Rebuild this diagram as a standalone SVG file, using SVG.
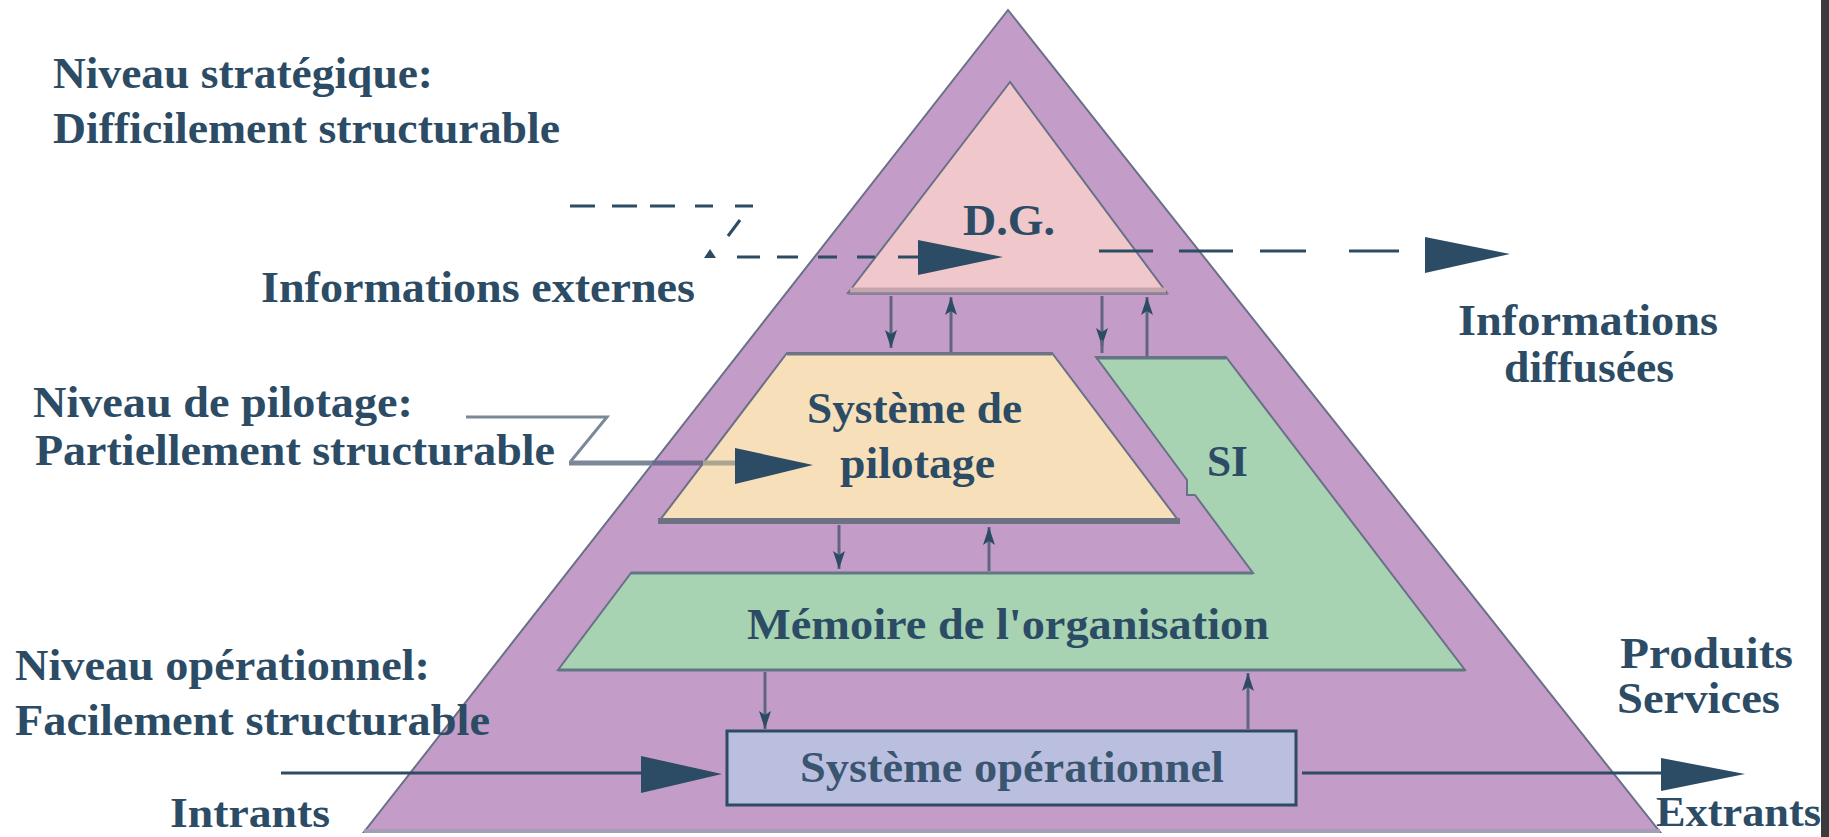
<svg xmlns="http://www.w3.org/2000/svg" width="1829" height="837" viewBox="0 0 1829 837">
<defs>
<style>
text{font-family:"Liberation Serif","Times New Roman",serif;font-weight:bold;font-size:45px;fill:#2C4B65}
.edge{stroke:#6A7087;stroke-width:2;stroke-linejoin:miter}
.vline{stroke:#60657F;stroke-width:3;fill:none}
.dash{stroke:#2C4B65;stroke-width:3;fill:none}
.head{fill:#2C4B65}
</style>
<marker id="sm" markerUnits="userSpaceOnUse" markerWidth="20" markerHeight="14" refX="18" refY="7" orient="auto">
<path d="M0,1 L18,7 L0,13 L4,7 z" fill="#2C4B65"/>
</marker>
</defs>
<rect width="1829" height="837" fill="#FFFFFF"/>

<g id="pyramide">
<polygon points="1008,10 364,832 1660,832" fill="#C39DC7" class="edge"/>
<line x1="364" y1="831" x2="1660" y2="831" stroke="#A39DB8" stroke-width="4"/>
</g>

<g id="dg">
<polygon points="1010,82 848,293 1167,293" fill="#F0C8CB" class="edge"/>
<line x1="850" y1="290" x2="1166" y2="290" stroke="#C6A4AE" stroke-width="5"/>
<line x1="848" y1="294" x2="1168" y2="294" stroke="#8A8099" stroke-width="2"/>
</g>

<g id="systeme-pilotage">
<polygon points="787,353 1052,353 1178,520 660,520" fill="#F7DFB9" class="edge"/>
<line x1="787" y1="354" x2="1052" y2="354" stroke="#6F7485" stroke-width="3"/>
<line x1="658" y1="521" x2="1180" y2="521" stroke="#6D7282" stroke-width="6"/>
</g>

<g id="si-memoire">
<polygon points="1096,357 1226,357 1465,670 558,670 631,573 1253,573 1195,495 1187,495 1187,480" fill="#A7D3B2" class="edge"/>
<line x1="1096" y1="358" x2="1226" y2="358" stroke="#637684" stroke-width="3"/>
<line x1="631" y1="573" x2="1253" y2="573" stroke="#637684" stroke-width="3"/>
<line x1="558" y1="670" x2="1465" y2="670" stroke="#5E7782" stroke-width="3"/>
</g>

<g id="systeme-operationnel">
<rect x="727" y="731" width="569" height="74" fill="#BBBFDF" stroke="#2C4B65" stroke-width="3"/>
</g>

<g id="connecteurs">
<line class="vline" x1="891" y1="296" x2="891" y2="348" marker-end="url(#sm)"/>
<line class="vline" x1="951" y1="352" x2="951" y2="297" marker-end="url(#sm)"/>
<line class="vline" x1="1102" y1="296" x2="1102" y2="346" marker-end="url(#sm)"/>
<line class="vline" x1="1102" y1="340" x2="1102" y2="353"/>
<line class="vline" x1="1147" y1="356" x2="1147" y2="297" marker-end="url(#sm)"/>
<line class="vline" x1="839" y1="525" x2="839" y2="569" marker-end="url(#sm)"/>
<line class="vline" x1="989" y1="571" x2="989" y2="527" marker-end="url(#sm)"/>
<line class="vline" x1="765" y1="672" x2="765" y2="729" marker-end="url(#sm)"/>
<line class="vline" x1="1248" y1="729" x2="1248" y2="673" marker-end="url(#sm)"/>

<path class="dash" d="M570,206 H595 M612,206 H637 M650,206 H675 M695,206 H713 M735,206 H753 M740,220 L728,236 M737,257 H760 M777,257 H798 M818,257 H837 M857,257 H875 M898,257 H920"/>
<polygon class="head" points="704,258 710,249 716,258"/>
<polygon class="head" points="918,240 1003,257 918,275"/>

<path class="dash" d="M1099,251 H1153 M1179,251 H1233 M1260,251 H1306 M1349,251 H1399"/>
<polygon class="head" points="1425,237 1510,254 1425,273"/>

<polyline points="466,417 607,417 571,461" fill="none" stroke="#7A8898" stroke-width="3"/>
<line x1="569" y1="463" x2="652" y2="463" stroke="#7A8898" stroke-width="5"/>
<line x1="652" y1="463" x2="703" y2="463" stroke="#6E6B8E" stroke-width="5"/>
<line x1="703" y1="463" x2="737" y2="463" stroke="#A9A590" stroke-width="5"/>
<polygon class="head" points="735,448 813,465 735,484"/>

<line x1="281" y1="773" x2="645" y2="773" stroke="#2C4B65" stroke-width="3"/>
<polygon class="head" points="641,756 722,774 641,793"/>
<line x1="1302" y1="773" x2="1665" y2="773" stroke="#2C4B65" stroke-width="3"/>
<polygon class="head" points="1661,758 1745,774 1661,791"/>
</g>

<g id="textes">
<text x="53" y="88" textLength="380" lengthAdjust="spacingAndGlyphs">Niveau stratégique:</text>
<text x="53" y="143" textLength="507" lengthAdjust="spacingAndGlyphs">Difficilement structurable</text>
<text x="261" y="302" textLength="434" lengthAdjust="spacingAndGlyphs">Informations externes</text>
<text x="963" y="235" textLength="92" lengthAdjust="spacingAndGlyphs">D.G.</text>
<text x="1458" y="335" textLength="260" lengthAdjust="spacingAndGlyphs">Informations</text>
<text x="1504" y="382" textLength="170" lengthAdjust="spacingAndGlyphs">diffusées</text>
<text x="33" y="417" textLength="380" lengthAdjust="spacingAndGlyphs">Niveau de pilotage:</text>
<text x="35" y="465" textLength="520" lengthAdjust="spacingAndGlyphs">Partiellement structurable</text>
<text x="807" y="423" textLength="215" lengthAdjust="spacingAndGlyphs">Système de</text>
<text x="840" y="478" textLength="155" lengthAdjust="spacingAndGlyphs">pilotage</text>
<text x="1207" y="476" textLength="41" lengthAdjust="spacingAndGlyphs">SI</text>
<text x="747" y="639" textLength="522" lengthAdjust="spacingAndGlyphs">Mémoire de l'organisation</text>
<text x="15" y="680" textLength="415" lengthAdjust="spacingAndGlyphs">Niveau opérationnel:</text>
<text x="15" y="735" textLength="475" lengthAdjust="spacingAndGlyphs">Facilement structurable</text>
<text x="1620" y="668" textLength="173" lengthAdjust="spacingAndGlyphs">Produits</text>
<text x="1617" y="713" textLength="163" lengthAdjust="spacingAndGlyphs">Services</text>
<text x="800" y="782" textLength="424" lengthAdjust="spacingAndGlyphs" style="fill:#3A5570">Système opérationnel</text>
<text x="170" y="827" textLength="160" lengthAdjust="spacingAndGlyphs" style="font-size:42px">Intrants</text>
<text x="1656" y="826" textLength="165" lengthAdjust="spacingAndGlyphs" style="font-size:43px">Extrants</text>
</g>
<rect x="1821" y="0" width="8" height="837" fill="#3B3B3B"/>
</svg>
